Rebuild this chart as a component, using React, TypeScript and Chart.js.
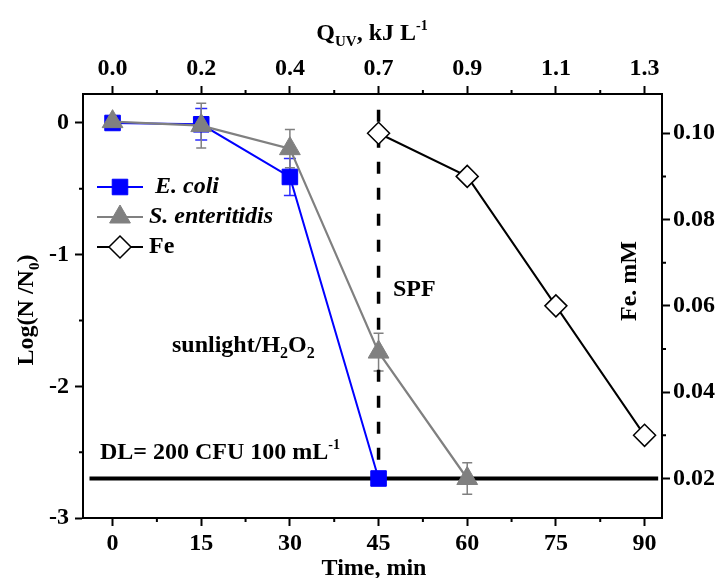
import React, { useEffect, useRef } from 'react';
import { Chart, registerables } from 'chart.js';

Chart.register(...registerables);

// ---- data ----
const timeTicks = [0, 15, 30, 45, 60, 75, 90];
const timeMinor = [7.5, 22.5, 37.5, 52.5, 67.5, 82.5];
const quvLabels = ['0.0', '0.2', '0.4', '0.7', '0.9', '1.1', '1.3'];
const logTicks = [-3, -2, -1, 0];
const logMinor = [-2.5, -1.5, -0.5];
const feTicks = [0.02, 0.04, 0.06, 0.08, 0.1];
const feMinor = [0.03, 0.05, 0.07, 0.09];

const ecoliTime = [0, 15, 30, 45];
const ecoliLog = [0, -0.01, -0.41, -2.7];
const ecoliErr = [0, 0.12, 0.14, 0];

const sentTime = [0, 15, 30, 45, 60];
const sentLog = [0.01, -0.02, -0.195, -1.74, -2.7];
const sentErr = [0, 0.17, 0.145, 0.143, 0.12];

const feTime = [45, 60, 75, 90];
const feConc = [0.1, 0.09, 0.06, 0.03];

const detectionLimit = -2.7;
const dlSpan = [-3.9, 92.3];
const spfTime = 45;
const spfSpan = [0.1, -2.7];

// axis ranges
const xMin = -5;
const xMax = 92.95;
const yMin = -3;
const yMax = 0.22;
// right axis aligned so that 0.02 mM sits on the detection limit
const feAt = (v: number) => 0.02 + (v - detectionLimit) * 0.03051;
const y2Min = feAt(yMin);
const y2Max = feAt(yMax);

const FAM = '"Liberation Serif", "Times New Roman", Times, serif';
const BLUE = '#0000ff';
const GRAY = '#808080';

type Run = { t: string; size: number; dy?: number; italic?: boolean };

function runsWidth(ctx: CanvasRenderingContext2D, runs: Run[]) {
  let w = 0;
  for (const r of runs) {
    ctx.font = `${r.italic ? 'italic ' : ''}bold ${r.size}px ${FAM}`;
    w += ctx.measureText(r.t).width;
  }
  return w;
}

function drawRuns(ctx: CanvasRenderingContext2D, runs: Run[], x: number, y: number, align: 'left' | 'center' = 'left') {
  let cx = align === 'center' ? x - runsWidth(ctx, runs) / 2 : x;
  ctx.textAlign = 'left';
  for (const r of runs) {
    ctx.font = `${r.italic ? 'italic ' : ''}bold ${r.size}px ${FAM}`;
    ctx.fillText(r.t, cx, y + (r.dy || 0));
    cx += ctx.measureText(r.t).width;
  }
}

function marker(ctx: CanvasRenderingContext2D, kind: string, x: number, y: number) {
  ctx.save();
  ctx.beginPath();
  if (kind === 'square') {
    const s = 11 * Math.SQRT1_2;
    ctx.rect(x - s, y - s, 2 * s, 2 * s);
    ctx.fillStyle = BLUE;
    ctx.strokeStyle = BLUE;
    ctx.lineWidth = 1;
    ctx.fill();
    ctx.stroke();
  } else if (kind === 'triangle') {
    const r = 12;
    ctx.moveTo(x, y - r);
    ctx.lineTo(x + r * Math.sqrt(3) / 2, y + r / 2);
    ctx.lineTo(x - r * Math.sqrt(3) / 2, y + r / 2);
    ctx.closePath();
    ctx.fillStyle = GRAY;
    ctx.strokeStyle = GRAY;
    ctx.lineWidth = 1;
    ctx.fill();
    ctx.stroke();
  } else {
    const r = 11;
    ctx.moveTo(x, y - r);
    ctx.lineTo(x + r, y);
    ctx.lineTo(x, y + r);
    ctx.lineTo(x - r, y);
    ctx.closePath();
    ctx.fillStyle = '#fff';
    ctx.strokeStyle = '#000';
    ctx.lineWidth = 1.5;
    ctx.fill();
    ctx.stroke();
  }
  ctx.restore();
}

const overlay = {
  id: 'overlay',
  beforeDatasetsDraw(chart: any) {
    const ctx: CanvasRenderingContext2D = chart.ctx;
    const xs = chart.scales.x;
    const ys = chart.scales.y;
    const bars = [
      { t: ecoliTime, v: ecoliLog, e: ecoliErr, c: '#2a2aff', cap: 6 },
      { t: sentTime, v: sentLog, e: sentErr, c: GRAY, cap: 5 },
    ];
    ctx.save();
    for (const b of bars) {
      ctx.strokeStyle = b.c;
      ctx.lineWidth = 1.5;
      b.t.forEach((t, i) => {
        if (!b.e[i]) return;
        const px = xs.getPixelForValue(t);
        const top = ys.getPixelForValue(b.v[i] + b.e[i]);
        const bot = ys.getPixelForValue(b.v[i] - b.e[i]);
        ctx.beginPath();
        ctx.moveTo(px, top);
        ctx.lineTo(px, bot);
        ctx.moveTo(px - b.cap, top);
        ctx.lineTo(px + b.cap, top);
        ctx.moveTo(px - b.cap, bot);
        ctx.lineTo(px + b.cap, bot);
        ctx.stroke();
      });
    }
    ctx.restore();
  },
  afterDraw(chart: any) {
    const ctx: CanvasRenderingContext2D = chart.ctx;
    const a = chart.chartArea;
    const xs = chart.scales.x;
    const ys = chart.scales.y;
    const y2 = chart.scales.y2;
    ctx.save();
    // minor ticks
    ctx.strokeStyle = '#000';
    ctx.lineWidth = 2;
    ctx.beginPath();
    for (const v of timeMinor) {
      const px = xs.getPixelForValue(v);
      ctx.moveTo(px, a.bottom);
      ctx.lineTo(px, a.bottom + 4);
      ctx.moveTo(px, a.top);
      ctx.lineTo(px, a.top - 4);
    }
    for (const v of logMinor) {
      const py = ys.getPixelForValue(v);
      ctx.moveTo(a.left, py);
      ctx.lineTo(a.left - 4, py);
    }
    for (const v of feMinor) {
      const py = y2.getPixelForValue(v);
      ctx.moveTo(a.right, py);
      ctx.lineTo(a.right + 4, py);
    }
    ctx.stroke();

    ctx.fillStyle = '#000';
    ctx.textBaseline = 'alphabetic';
    // top title
    drawRuns(ctx, [
      { t: 'Q', size: 24 },
      { t: 'UV', size: 15, dy: 6 },
      { t: ', kJ L', size: 24 },
      { t: '-1', size: 14, dy: -10 },
    ], 372, 40, 'center');
    // bottom title
    drawRuns(ctx, [{ t: 'Time, min', size: 24 }], 374, 575, 'center');
    // left title
    ctx.save();
    ctx.translate(33, 310);
    ctx.rotate(-Math.PI / 2);
    drawRuns(ctx, [
      { t: 'Log(N /N', size: 24 },
      { t: '0', size: 15, dy: 6 },
      { t: ')', size: 24 },
    ], 0, 0, 'center');
    ctx.restore();
    // right title (inside the plot)
    ctx.save();
    ctx.translate(636, 281);
    ctx.rotate(-Math.PI / 2);
    drawRuns(ctx, [{ t: 'Fe. mM', size: 24 }], 0, 0, 'center');
    ctx.restore();
    // annotations
    drawRuns(ctx, [{ t: 'SPF', size: 24 }], 393, 296);
    drawRuns(ctx, [
      { t: 'sunlight/H', size: 24 },
      { t: '2', size: 16, dy: 6 },
      { t: 'O', size: 24 },
      { t: '2', size: 16, dy: 6 },
    ], 172, 352);
    drawRuns(ctx, [
      { t: 'DL= 200 CFU 100 mL', size: 24 },
      { t: '-1', size: 14, dy: -10 },
    ], 100, 459);

    // legend
    const items = [
      { kind: 'square', color: BLUE, label: ' E. coli', italic: true, y: 187 },
      { kind: 'triangle', color: GRAY, label: 'S. enteritidis', italic: true, y: 217 },
      { kind: 'diamond', color: '#000', label: 'Fe', italic: false, y: 247 },
    ];
    for (const it of items) {
      ctx.strokeStyle = it.color;
      ctx.lineWidth = 2;
      ctx.beginPath();
      ctx.moveTo(97, it.y);
      ctx.lineTo(143, it.y);
      ctx.stroke();
      marker(ctx, it.kind, 120, it.y);
      ctx.fillStyle = '#000';
      ctx.textBaseline = 'middle';
      drawRuns(ctx, [{ t: it.label, size: 24, italic: it.italic }], 149, it.y);
    }
    ctx.restore();
  },
};

const tickFont = { family: FAM, size: 24, weight: 'bold' as const };
const axisGrid = { drawOnChartArea: false, drawTicks: true, tickLength: 8, tickWidth: 2, tickColor: '#000', color: '#000' };
const axisBorder = { display: true, color: '#000', width: 2 };

export default function App() {
  const ref = useRef<HTMLCanvasElement | null>(null);
  useEffect(() => {
    if (!ref.current) return;
    const chart = new Chart(ref.current, {
      type: 'line',
      data: {
        datasets: [
          {
            label: 'S. enteritidis',
            data: sentTime.map((t, i) => ({ x: t, y: sentLog[i] })),
            borderColor: GRAY,
            backgroundColor: GRAY,
            borderWidth: 2.2,
            pointStyle: 'triangle',
            pointRadius: 12,
            pointBorderWidth: 1,
            xAxisID: 'x',
            yAxisID: 'y',
            order: 1,
          },
          {
            label: 'E. coli',
            data: ecoliTime.map((t, i) => ({ x: t, y: ecoliLog[i] })),
            borderColor: BLUE,
            backgroundColor: BLUE,
            borderWidth: 2,
            pointStyle: 'rect',
            pointRadius: 11,
            pointBorderWidth: 1,
            xAxisID: 'x',
            yAxisID: 'y',
            order: 2,
          },
          {
            label: 'Fe',
            data: feTime.map((t, i) => ({ x: t, y: feConc[i] })),
            borderColor: '#000',
            backgroundColor: '#fff',
            borderWidth: 2,
            pointStyle: 'rectRot',
            pointRadius: 11,
            pointBorderWidth: 1.5,
            pointBorderColor: '#000',
            xAxisID: 'x',
            yAxisID: 'y2',
            order: 0,
          },
          {
            label: 'SPF',
            data: spfSpan.map((v) => ({ x: spfTime, y: v })),
            borderColor: '#000',
            borderWidth: 3.5,
            borderDash: [12, 14],
            pointRadius: 0,
            xAxisID: 'x',
            yAxisID: 'y',
            order: 4,
          },
          {
            label: 'DL',
            data: dlSpan.map((t) => ({ x: t, y: detectionLimit })),
            borderColor: '#000',
            borderWidth: 4,
            pointRadius: 0,
            xAxisID: 'x',
            yAxisID: 'y',
            order: 5,
          },
        ],
      },
      options: {
        animation: false,
        responsive: false,
        devicePixelRatio: 1,
        events: [],
        layout: { padding: 0 },
        plugins: { legend: { display: false }, tooltip: { enabled: false } },
        scales: {
          x: {
            type: 'linear',
            position: 'bottom',
            min: xMin,
            max: xMax,
            afterBuildTicks: (s: any) => { s.ticks = timeTicks.map((v) => ({ value: v })); },
            afterFit: (s: any) => { s.height = 60; },
            ticks: { font: tickFont, color: '#000', padding: 3, autoSkip: false, maxRotation: 0, callback: (v: any) => String(v) },
            grid: axisGrid,
            border: axisBorder,
          },
          x2: {
            type: 'linear',
            axis: 'x',
            position: 'top',
            min: xMin,
            max: xMax,
            afterBuildTicks: (s: any) => { s.ticks = timeTicks.map((v) => ({ value: v })); },
            afterFit: (s: any) => { s.height = 94; },
            ticks: { font: tickFont, color: '#000', padding: 3, autoSkip: false, maxRotation: 0, callback: (v: any) => quvLabels[timeTicks.indexOf(Number(v))] ?? '' },
            grid: axisGrid,
            border: axisBorder,
          },
          y: {
            type: 'linear',
            position: 'left',
            min: yMin,
            max: yMax,
            afterBuildTicks: (s: any) => { s.ticks = logTicks.map((v) => ({ value: v })); },
            afterFit: (s: any) => { s.width = 83; },
            ticks: { font: tickFont, color: '#000', padding: 6, autoSkip: false, callback: (v: any) => String(v) },
            grid: axisGrid,
            border: axisBorder,
          },
          y2: {
            type: 'linear',
            position: 'right',
            min: y2Min,
            max: y2Max,
            afterBuildTicks: (s: any) => { s.ticks = feTicks.map((v) => ({ value: v })); },
            afterFit: (s: any) => { s.width = 57; },
            ticks: { font: tickFont, color: '#000', padding: 3, autoSkip: false, callback: (v: any) => Number(v).toFixed(2) },
            grid: axisGrid,
            border: axisBorder,
          },
        },
      },
      plugins: [overlay],
    } as any);
    return () => chart.destroy();
  }, []);
  return (
    <div style={{ position: 'absolute', left: 0, top: 0, width: 719, height: 578, background: '#fff' }}>
      <canvas ref={ref} width={719} height={578} style={{ width: 719, height: 578, display: 'block' }} />
    </div>
  );
}
